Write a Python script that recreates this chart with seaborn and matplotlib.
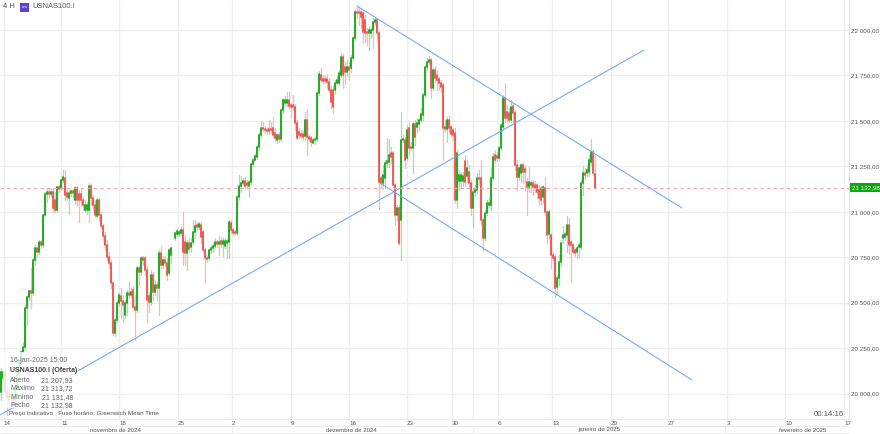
import numpy as np
import pandas as pd
import seaborn as sns
import matplotlib.pyplot as plt
from matplotlib.patches import Rectangle
from matplotlib.lines import Line2D

# 4H candles (one row of ten per line)
nan = float('nan')
opens = [
20009,20086,20119,20009,19965,19993,19976,19965,20020,20103,
20174,20229,20257,20471,20532,20565,20554,20735,20801,20779,
20834,20818,20983,21098,21109,21098,21109,21065,21010,21137,
21131,21175,21186,21104,21076,21104,21115,21065,21131,21098,
21098,21065,21010,21010,21010,21142,21076,21038,20977,21065,
20983,20922,20867,20818,20752,20719,20609,20334,20405,20498,
20537,20509,20432,20498,20554,20542,20570,20477,20460,20691,
20669,20746,20746,20680,20537,20504,20652,20559,20597,20581,
20773,20708,20735,20719,20663,20762,nan,20856,20878,20878,
20883,20900,20834,20773,20829,20807,20834,20889,20927,20916,
20927,20889,20790,20746,20746,20790,20801,20812,20834,20823,
20840,20823,20812,20829,20834,20938,20900,20889,20883,21082,
21142,21159,21170,21159,21142,21164,21263,21285,21302,21357,
21423,21461,21456,21450,21456,21456,21461,21434,21395,21423,
21401,21560,21599,21599,21615,21588,21588,21577,21489,21439,
21428,21428,21417,21505,21412,21406,21379,21395,21401,21653,
21752,21730,21730,21730,21714,21670,21670,21670,21708,21708,
21752,21851,21796,21769,21796,21791,21846,21956,22099,22099,
22099,22094,22055,21989,21984,21984,22000,22044,22055,21984,
21186,21159,21186,21269,21274,21323,21323,21148,20983,21021,
20955,21395,21395,21296,21461,21357,21351,21483,21467,21483,
21505,21533,21643,21796,21824,21835,21681,21780,21752,21730,
21708,21697,21467,21456,21505,21467,21450,21434,21065,21170,
21170,21170,21280,21197,21219,21159,21021,21109,21120,21186,
21186,20955,20856,20994,21038,21038,21186,21312,21307,21296,
21351,21467,21626,21549,21544,21505,21582,21544,21258,21192,
21214,21258,21236,21164,21137,21148,21159,21148,21148,21120,
21131,21082,21131,20999,20878,20872,20762,20752,20587,20636,
20724,20856,20861,20872,20927,20834,20818,20790,20779,20807,
20807,21159,21214,21214,21219,21274,21329,21207.93]
closes = [
20119,20119,20009,19976,19993,19976,19965,20020,20103,20174,
20229,20257,20471,20532,20565,20554,20735,20801,20779,20834,
20818,20983,21098,21109,21098,21109,21021,21010,21137,21126,
21175,21192,21093,21082,21104,21115,21104,21131,21065,21065,
21065,21038,21038,21038,21142,21076,21038,20983,21065,20983,
20922,20867,20818,20752,20719,20609,20334,20405,20498,20542,
20509,20488,20498,20554,20542,20559,20477,20460,20691,20669,
20746,20735,20680,20515,20504,20652,20559,20597,20581,20773,
20708,20735,20719,20652,20790,20801,nan,20883,20895,20889,
20900,20779,20773,20829,20796,20829,20889,20922,20916,20933,
20861,20790,20746,20740,20790,20801,20812,20834,20823,20834,
20823,20840,20840,20840,20944,20900,20883,20883,21082,21142,
21159,21170,21142,21148,21164,21263,21285,21307,21357,21423,
21461,21456,21450,21445,21445,21450,21423,21406,21423,21401,
21560,21615,21615,21615,21582,21577,21577,21489,21406,21423,
21417,21412,21505,21412,21401,21384,21395,21401,21653,21758,
21725,21719,21719,21714,21670,21604,21577,21708,21725,21763,
21851,21752,21769,21796,21780,21846,21956,22099,22094,22094,
22072,21989,21984,21984,22000,22000,22044,22055,21984,21164,
21159,21203,21269,21280,21312,21301,21148,20983,21021,20829,
21395,21401,21285,21450,21351,21351,21483,21412,21489,21505,
21538,21643,21796,21824,21835,21681,21780,21736,21725,21708,
21686,21461,21456,21505,21461,21428,21423,21065,21323,21203,
21203,21197,21164,21241,21159,21021,21109,21120,21186,21181,
20955,20856,20994,21049,21049,21186,21301,21285,21296,21351,
21478,21626,21516,21516,21505,21577,21544,21258,21192,21241,
21258,21219,21219,21137,21164,21159,21137,21131,21109,21076,
21065,21137,20999,20872,20999,20762,20746,20581,20636,20724,
20829,20872,20878,20927,20818,20818,20779,20773,20801,20818,
21159,21214,21203,21230,21285,21329,21214,21132.98]
highs = [
20141,20130,20141,20048,20009,20031,20009,20048,20130,20196,
20240,20284,20488,20537,20570,20691,20746,20818,20807,20845,
20845,20988,21109,21131,21131,21131,21131,21109,21142,21148,
21186,21230,21230,21120,21120,21126,21126,21142,21142,21120,
21120,21082,21065,21054,21159,21153,21093,21065,21076,21076,
20999,20933,20889,20845,20779,20735,20614,20416,20515,20554,
20581,20542,20515,20570,20614,20581,20587,20542,20702,20702,
20757,20757,20757,20702,20559,20680,20669,20625,20614,20790,
20812,20757,20757,20746,20801,20807,nan,20889,20906,20900,
20916,20999,20867,20845,20856,20856,20955,20955,20944,20944,
20944,20900,20801,20762,20796,20818,20829,20856,20845,20867,
20861,20856,20856,20850,20955,20955,20911,20900,21093,21202,
21197,21186,21192,21175,21175,21274,21296,21318,21368,21434,
21500,21494,21472,21467,21505,21494,21522,21461,21434,21439,
21571,21626,21637,21659,21659,21599,21643,21593,21505,21461,
21450,21445,21549,21560,21428,21417,21406,21412,21659,21775,
21791,21752,21747,21758,21736,21692,21692,21725,21747,21780,
21874,21868,21824,21835,21824,21862,21967,22110,22132,22121,
22116,22110,22083,22011,22022,22011,22066,22072,22066,21995,
21197,21257,21285,21406,21401,21356,21334,21159,21038,21038,
21549,21423,21412,21477,21489,21384,21494,21505,21516,21516,
21571,21654,21807,21846,21857,21846,21791,21802,21780,21741,
21725,21708,21505,21522,21533,21477,21461,21461,21340,21230,
21219,21219,21312,21285,21257,21175,21131,21148,21213,21230,
21285,20966,21010,21065,21076,21241,21323,21340,21329,21362,
21489,21643,21708,21588,21571,21615,21599,21560,21285,21258,
21269,21269,21258,21186,21247,21175,21175,21170,21159,21148,
21142,21148,21192,21010,21010,20883,20779,20768,20652,20762,
20845,20922,20889,20977,20966,20845,20829,20801,20812,20829,
21175,21252,21241,21257,21312,21401,21340,21313.72]
lows = [
19965,20009,19965,19883,19938,19943,19921,19943,20009,20075,
20158,20218,20240,20378,20515,20471,20543,20708,20757,20768,
20801,20807,20977,21054,21076,21087,20999,20999,20999,21109,
21120,21164,21065,21065,20988,21087,21082,21043,21032,20944,
21032,21010,20999,20988,20944,21038,21010,20972,20972,20955,
20911,20845,20790,20735,20691,20581,20322,20317,20394,20482,
20416,20394,20416,20432,20526,20532,20471,20295,20449,20597,
20652,20708,20652,20394,20449,20488,20515,20542,20515,20432,
20691,20691,20702,20625,20652,20713,nan,20845,20867,20867,
20872,20708,20708,20680,20779,20779,20823,20856,20900,20906,
20829,20779,20614,20724,20735,20773,20779,20801,20807,20762,
20807,20757,20801,20746,20746,20883,20872,20872,20872,21065,
21109,21148,21126,21131,21082,21153,21252,21285,21291,21340,
21412,21445,21434,21428,21428,21434,21412,21390,21379,21384,
21390,21544,21582,21582,21566,21516,21560,21450,21401,21406,
21406,21395,21395,21312,21390,21362,21379,21373,21390,21643,
21714,21708,21708,21681,21659,21571,21544,21648,21703,21697,
21741,21681,21703,21747,21725,21769,21835,21945,22066,22028,
22011,21929,21934,21918,21890,21956,21901,22028,21945,21016,
21137,21142,21131,21247,21247,21269,21137,20927,20955,20818,
20735,21384,21241,21285,21312,21340,21213,21368,21439,21450,
21494,21505,21632,21780,21813,21626,21670,21714,21670,21670,
21659,21285,21439,21384,21439,21412,21395,21049,21021,21120,
21131,21142,21142,21164,21131,20983,20916,21093,21104,21148,
20927,20790,20845,20983,21021,21010,21175,21269,21280,21285,
21340,21450,21494,21494,21494,21494,21494,21230,21120,21175,
21164,21159,21120,20983,21109,21109,21093,21109,21076,21038,
21038,21049,20983,20829,20856,20691,20735,20532,20542,20597,
20702,20829,20845,20779,20768,20620,20773,20757,20746,20752,
20796,21093,21186,21197,21197,21257,21203,21131.48]

# trend lines drawn on the chart, as (candle number, price)
rising_x = [-0.5, 321.5]
rising_y = [19882.5, 21890]
upper_x = [178, 340.5]
upper_y = [22132, 21021]
lower_x = [189.5, 345.5]
lower_y = [21158.5, 20075]
last_price = 21132.98

# axis labels
price_ticks = [22000, 21750, 21500, 21250, 21000, 20750, 20500, 20250, 20000]
price_labels = ['22 000,00', '21 750,00', '21 500,00', '21 250,00', '21 000,00',
                '20 750,00', '20 500,00', '20 250,00', '20 000,00']
date_ticks = [1.25, 30, 59, 88.5, 115.5, 145, 174, 203, 225.5, 236, 248.5, 275.5, 305, 333.5, 363, 392, 421.5]
date_labels = ['14', '11', '18', '25', '2', '9', '16', '23', '30', '', '6', '13', '20', '27', '3', '10', '17']
months = ['novembro de 2024', 'dezembro de 2024', 'janeiro de 2025', 'fevereiro de 2025']
month_x = [115, 351, 599, 803]

W, H = 880, 434
GREEN, RED = '#12a812', '#f0504c'
PALE_GREEN, PALE_RED = '#a8dfa8', '#f8b9b6'

def fx(px):
  return px / W

def fy(py):
  return 1 - py / H

sns.set_theme(style = 'white')
plt.rcParams['font.family'] = ['Liberation Sans', 'DejaVu Sans']

candles = pd.DataFrame({'open': opens, 'close': closes, 'high': highs, 'low': lows})
candles['i'] = candles.index
candles['dir'] = np.where(candles['close'] >= candles['open'], 'up', 'down')
candles = candles.dropna()

bodies = candles.melt(id_vars = ['i', 'dir'], value_vars = ['open', 'close'], value_name = 'price')
wicks = candles.melt(id_vars = ['i', 'dir'], value_vars = ['high', 'low'], value_name = 'price')

fig = plt.figure(figsize = (W / 100, H / 100), dpi = 100)
ax = fig.add_axes([0, fy(419), fx(849), 419 / H])

sns.lineplot(data = wicks, x = 'i', y = 'price', hue = 'dir', units = 'i', estimator = None,
             palette = {'up': PALE_GREEN, 'down': PALE_RED}, linewidth = 0.9, legend = False, sort = False, ax = ax)
sns.lineplot(data = bodies, x = 'i', y = 'price', hue = 'dir', units = 'i', estimator = None,
             palette = {'up': GREEN, 'down': RED}, linewidth = 1.3, legend = False, sort = False, ax = ax)

for xs, ys in [(rising_x, rising_y), (upper_x, upper_y), (lower_x, lower_y)]:
  sns.lineplot(x = xs, y = ys, color = '#6ea6f4', linewidth = 0.75, estimator = None, ax = ax)

ax.axhline(last_price, color = '#f3a6a3', linewidth = 0.8, dashes = (3, 3))

ax.set_xlim(-0.5, 424)
ax.set_ylim(22165 - 5.5 * 419, 22165)
ax.set_xlabel('')
ax.set_ylabel('')
ax.yaxis.tick_right()
ax.set_yticks(price_ticks)
ax.set_yticklabels(price_labels, fontsize = 4.5, color = '#555555')
ax.set_xticks(date_ticks)
ax.set_xticklabels(date_labels, fontsize = 4.5, color = '#555555', ha = 'left')
ax.tick_params(axis = 'x', length = 0, pad = 1.2)
ax.tick_params(axis = 'y', length = 0, pad = 1.5)
ax.grid(True, color = '#eeeeee', linewidth = 0.95)
ax.set_axisbelow(True)
for side in ['top', 'left', 'bottom']:
  ax.spines[side].set_visible(False)
ax.spines['right'].set_color('#e2e2e2')
ax.spines['right'].set_linewidth(0.8)

# time axis rules under the plot
for py in [419, 426, 433]:
  fig.add_artist(Line2D([0, fx(849)], [fy(py), fy(py)], color = '#e8e8e8', linewidth = 0.6))
for px in [232, 473, 725]:
  fig.add_artist(Line2D([fx(px), fx(px)], [fy(426), fy(433)], color = '#e8e8e8', linewidth = 0.6))
for name, px in zip(months, month_x):
  fig.text(fx(px), fy(430), name, fontsize = 4.4, color = '#555555', ha = 'center', va = 'center')

# current price tag
fig.add_artist(Rectangle((fx(850), fy(192)), fx(30), 9.5 / H, color = '#0da80d', linewidth = 0))
fig.text(fx(851.5), fy(187.5), '21 132,98', fontsize = 4.5, color = 'white', va = 'center')

# header
fig.text(fx(3), fy(6.5), '4 H', fontsize = 5.4, color = '#555555', va = 'center')
fig.add_artist(Rectangle((fx(20), fy(12)), 9 / W, 9 / H, color = '#5b3fd6', linewidth = 0))
fig.text(fx(24.5), fy(7), 'ms', fontsize = 3.2, color = 'white', ha = 'center', va = 'center')
fig.text(fx(32), fy(6.5), 'USNAS100.I', fontsize = 5.4, color = '#555555', va = 'center')

# hover box
fig.add_artist(Rectangle((fx(3), fy(408)), 75 / W, 56 / H, color = 'white', alpha = 0.82, linewidth = 0))
fig.text(fx(10), fy(360), '16-jan-2025 15:00', fontsize = 5.0, color = '#666666', va = 'center')
fig.text(fx(10), fy(370.5), 'USNAS100.I (Oferta)', fontsize = 5.0, color = '#444444', va = 'center', weight = 'bold')
info_names = ['Aberto', 'Máximo', 'Mínimo', 'Fecho']
info_values = ['21 207,93', '21 313,72', '21 131,48', '21 132,98']
for n, (name, val) in enumerate(zip(info_names, info_values)):
  fig.text(fx(10), fy(380.5 + 8.3 * n), name, fontsize = 5.0, color = '#666666', va = 'center')
  fig.text(fx(73), fy(380.5 + 8.3 * n), val, fontsize = 5.0, color = '#666666', va = 'center', ha = 'right')
fig.text(fx(9), fy(414), 'Preço indicativo   Fuso horário: Greenwich Mean Time', fontsize = 4.5, color = '#555555', va = 'center')
fig.text(fx(844), fy(415), '00:14:16', fontsize = 5.6, color = '#555555', va = 'center', ha = 'right')

fig.savefig('out.png', dpi = 100)
